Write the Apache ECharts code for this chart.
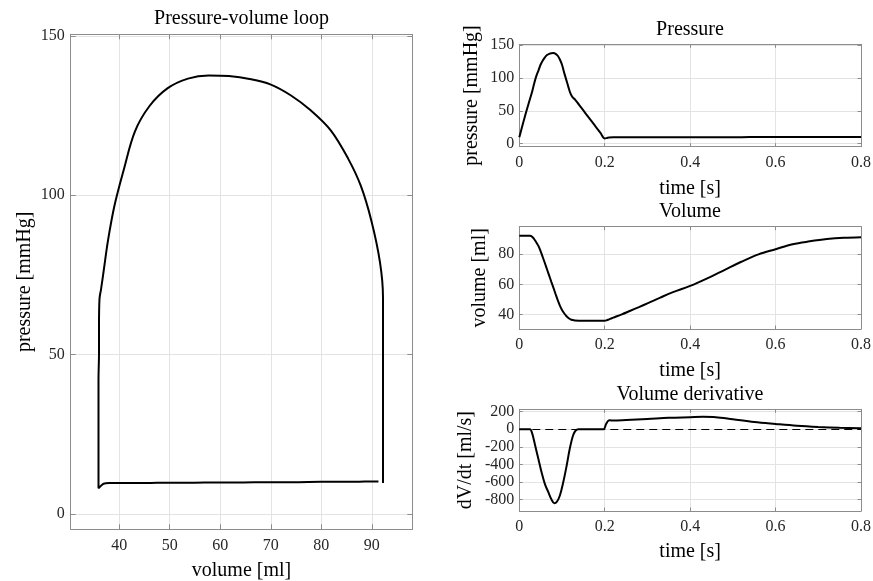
<!DOCTYPE html>
<html>
<head>
<meta charset="utf-8">
<title>Pressure-volume loop</title>
<script src="https://cdn.jsdelivr.net/npm/echarts@6/dist/echarts.min.js"></script>
<style>
  html, body { margin: 0; padding: 0; background: #fff; }
  #main { width: 873px; height: 581px; }
</style>
</head>
<body>
<div id="main"></div>
<script>
// time samples [s] shared by pressure and volume (the loop pairs them)
var time = [0, 0.005, 0.01, 0.015, 0.02, 0.025, 0.03, 0.035, 0.04, 0.045,
  0.05, 0.055, 0.06, 0.065, 0.07, 0.075, 0.08, 0.085, 0.09, 0.095,
  0.1, 0.105, 0.11, 0.115, 0.12, 0.125, 0.13, 0.14, 0.15, 0.16,
  0.17, 0.18, 0.19, 0.2, 0.205, 0.21, 0.22, 0.24, 0.26, 0.28,
  0.3, 0.33, 0.36, 0.4, 0.44, 0.48, 0.52, 0.56, 0.6, 0.64,
  0.68, 0.72, 0.76, 0.8];
// pressure [mmHg]
var pressure = [9.7, 22, 34, 46, 57, 68, 79, 92, 103, 111.5,
  120.3, 126.5, 131.3, 134.8, 136.5, 137.4, 137.6, 136.6, 133.6, 128,
  120, 108, 97, 86, 76, 70.5, 67.5, 59, 50.5, 42,
  33.5, 25, 16.5, 8.1, 8.7, 9.5, 9.7, 9.7, 9.7, 9.7,
  9.8, 9.8, 9.8, 9.9, 9.9, 10.0, 10.0, 10.1, 10.1, 10.1,
  10.2, 10.2, 10.2, 10.2];
// volume [ml]
var volume = [92.2, 92.2, 92.2, 92.2, 92.2, 92.2, 91.6, 89.9, 87.8, 85.3,
  81.9, 78.0, 74.0, 69.9, 65.8, 61.7, 57.7, 53.6, 49.6, 46.0,
  43.1, 40.9, 39.1, 37.8, 36.9, 36.4, 36.1, 36.0, 36.0, 35.9,
  35.9, 35.9, 35.9, 35.9, 36.3, 36.9, 38.0, 40.2, 42.6, 45.0,
  47.5, 51.3, 54.9, 59.0, 64.0, 69.5, 75.0, 79.9, 83.3, 86.6,
  88.5, 90.0, 90.9, 91.3];

// volume derivative [ml/s], read on its own time samples
var dTime = [0, 0.02, 0.025, 0.03, 0.037, 0.045, 0.052, 0.06, 0.068, 0.075,
  0.082, 0.088, 0.095, 0.103, 0.111, 0.118, 0.126, 0.132, 0.138, 0.16,
  0.18, 0.197, 0.203, 0.208, 0.212, 0.22, 0.25, 0.3, 0.35, 0.4,
  0.43, 0.46, 0.5, 0.55, 0.6, 0.65, 0.7, 0.75, 0.8];
var dVdt = [0, 0, 0, -45, -183, -345, -488, -625, -716, -795,
  -842, -825, -754, -600, -411, -225, -69, -15, 0, 0,
  0, 0, 55, 95, 101, 98, 104, 116, 130, 136,
  140, 137, 113, 82, 60, 40, 26, 16, 10];

// axis limits: [min, max, splitNumber, interval]
var pvVolLim = [30.4, 98, 7];
var pvPresLim = [-4.8, 150.5, 3];
var timeLim = [0, 0.8, 4, 0.2];
var presLim = [-4.5, 151, 3];
var volLim = [30.5, 98.2, 3];
var derivLim = [-930, 226, 6];

var titles = ['Pressure-volume loop', 'Pressure', 'Volume', 'Volume derivative'];

var chart = echarts.init(document.getElementById('main'));
var font = 'Liberation Serif';
var frame = '#8c8c8c';

var grids = [
  {left: 70.7, top: 34.3, width: 341.6, height: 495},
  {left: 519.3, top: 44.3, width: 341.7, height: 102.4},
  {left: 519.3, top: 226.7, width: 341.7, height: 102.3},
  {left: 519.3, top: 409.3, width: 341.7, height: 101.7}
];

// main axis (labels, grid lines) + mirror axis on the opposite side (ticks only)
function axisPair(g, dir, lim, name, nameGap, tickLen, margin) {
  var hideEnds = lim[3] === undefined;
  var main = {
    type: 'value', gridIndex: g, position: dir === 'x' ? 'bottom' : 'left',
    min: lim[0], max: lim[1], splitNumber: lim[2], interval: lim[3],
    name: name, nameLocation: 'middle', nameGap: nameGap,
    nameTextStyle: {fontFamily: font, fontSize: 20, color: '#000'},
    axisLine: {show: true, onZero: false, lineStyle: {color: frame, width: 1}},
    axisTick: {show: true, inside: true, length: tickLen, lineStyle: {color: frame}},
    axisLabel: {fontFamily: font, fontSize: 16, color: '#262626', margin: margin,
      showMinLabel: !hideEnds, showMaxLabel: !hideEnds},
    splitLine: {show: true, lineStyle: {color: '#e3e3e3', width: 1}}
  };
  var mirror = {
    type: 'value', gridIndex: g, position: dir === 'x' ? 'top' : 'right',
    min: lim[0], max: lim[1], splitNumber: lim[2], interval: lim[3],
    axisLine: {show: true, onZero: false, lineStyle: {color: frame, width: 1}},
    axisTick: {show: true, inside: true, length: tickLen, lineStyle: {color: frame}},
    axisLabel: {show: false},
    splitLine: {show: false}
  };
  return [main, mirror];
}

var xAxis = [].concat(
  axisPair(0, 'x', pvVolLim, 'volume [ml]', 31, 5, 8),
  axisPair(1, 'x', timeLim, 'time [s]', 32, 3.5, 8),
  axisPair(2, 'x', timeLim, 'time [s]', 31.5, 3.5, 8),
  axisPair(3, 'x', timeLim, 'time [s]', 31, 3.5, 8)
);
var yAxis = [].concat(
  axisPair(0, 'y', pvPresLim, 'pressure [mmHg]', 36, 5, 6),
  axisPair(1, 'y', presLim, 'pressure [mmHg]', 38, 3.5, 5),
  axisPair(2, 'y', volLim, 'volume [ml]', 30, 3.5, 5),
  axisPair(3, 'y', derivLim, 'dV/dt [ml/s]', 44, 3.5, 5)
);

var titleCenters = [[241.5, 9], [690, 20], [690, 202], [690, 384.5]];

function lineSeries(idx, data) {
  return {
    type: 'line', xAxisIndex: idx * 2, yAxisIndex: idx * 2,
    data: data, showSymbol: false, symbol: 'none', smooth: 0.35,
    lineStyle: {color: '#000', width: 2}, z: 3
  };
}

var derivSeries = lineSeries(3, dTime.map(function (t, i) { return [t, dVdt[i]]; }));
derivSeries.markLine = {
  silent: true, symbol: 'none', label: {show: false},
  lineStyle: {type: [8, 5], color: '#000', width: 1},
  data: [{yAxis: 0}]
};

chart.setOption({
  animation: false,
  backgroundColor: '#fff',
  title: titles.map(function (t, i) {
    return {
      text: t, left: titleCenters[i][0], top: titleCenters[i][1],
      textAlign: 'center', padding: 0,
      textStyle: {fontFamily: font, fontSize: 20, fontWeight: 'normal', color: '#000'}
    };
  }),
  grid: grids.map(function (g) {
    return {left: g.left, top: g.top, width: g.width, height: g.height,
      show: false, containLabel: false, outerBoundsMode: 'none'};
  }),
  xAxis: xAxis,
  yAxis: yAxis,
  series: [
    lineSeries(0, volume.map(function (v, i) { return [v, pressure[i]]; })),
    lineSeries(1, time.map(function (t, i) { return [t, pressure[i]]; })),
    lineSeries(2, time.map(function (t, i) { return [t, volume[i]]; })),
    derivSeries
  ]
});
</script>
</body>
</html>
